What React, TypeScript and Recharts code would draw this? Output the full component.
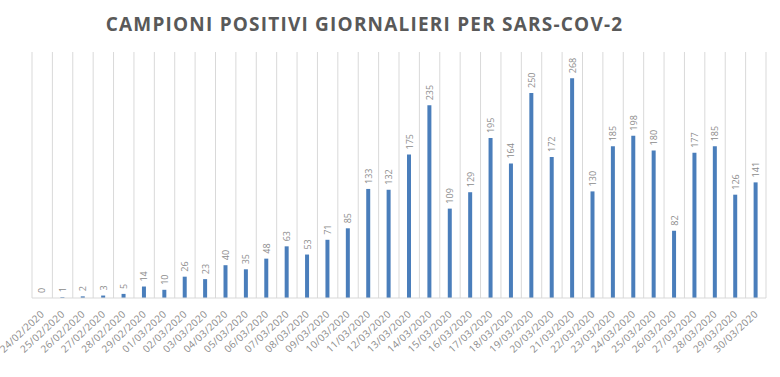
import React from 'react';
import { BarChart, Bar, XAxis, YAxis, CartesianGrid, LabelList } from 'recharts';

const dates = [
  '24/02/2020', '25/02/2020', '26/02/2020', '27/02/2020', '28/02/2020', '29/02/2020',
  '01/03/2020', '02/03/2020', '03/03/2020', '04/03/2020', '05/03/2020', '06/03/2020',
  '07/03/2020', '08/03/2020', '09/03/2020', '10/03/2020', '11/03/2020', '12/03/2020',
  '13/03/2020', '14/03/2020', '15/03/2020', '16/03/2020', '17/03/2020', '18/03/2020',
  '19/03/2020', '20/03/2020', '21/03/2020', '22/03/2020', '23/03/2020', '24/03/2020',
  '25/03/2020', '26/03/2020', '27/03/2020', '28/03/2020', '29/03/2020', '30/03/2020',
];

const positives = [
  0, 1, 2, 3, 5, 14, 10, 26, 23, 40, 35, 48, 63, 53, 71, 85, 133, 132,
  175, 235, 109, 129, 195, 164, 250, 172, 268, 130, 185, 198, 180, 82, 177, 185, 126, 141,
];

const title = 'CAMPIONI POSITIVI GIORNALIERI PER SARS-COV-2';

const data = dates.map((d, i) => ({ date: d, value: positives[i] }));

const DateTick = (props: any) => {
  const { x, y, payload } = props;
  return (
    <g transform={`translate(${x},${y + 6})`}>
      <text
        x={0}
        y={0}
        transform="rotate(-43)"
        textAnchor="end"
        dominantBaseline="central"
        fill="#8c8c8c"
        fontSize={10}
        letterSpacing={0.3}
        fontFamily="'Open Sans', sans-serif"
      >
        {payload.value}
      </text>
    </g>
  );
};

const ValueLabel = (props: any) => {
  const { x, y, width, value } = props;
  const cx = x + width / 2;
  const cy = y - 5;
  return (
    <text
      x={cx}
      y={cy}
      transform={`rotate(-90, ${cx}, ${cy})`}
      textAnchor="start"
      dominantBaseline="central"
      fill="#8c8c8c"
      fontSize={9}
      fontFamily="'Open Sans', sans-serif"
    >
      {value}
    </text>
  );
};

export default function App() {
  return (
    <div style={{ position: 'absolute', left: 0, top: 0, width: 780, height: 377, background: '#fff' }}>
      <div
        style={{
          position: 'absolute',
          left: 0,
          top: 11,
          width: 729,
          textAlign: 'center',
          fontFamily: "'Open Sans', sans-serif",
          fontWeight: 700,
          fontSize: 19,
          color: '#595959',
          letterSpacing: 1.2,
        }}
      >
        {title}
      </div>
      <BarChart
        width={780}
        height={377}
        data={data}
        margin={{ top: 52, right: 14, left: 32, bottom: 0 }}
        barCategoryGap={0}
      >
        <CartesianGrid
          horizontal={false}
          stroke="#d9d9d9"
          verticalCoordinatesGenerator={({ offset }: any) =>
            Array.from({ length: dates.length + 1 }, (_, i) => offset.left + (i * offset.width) / dates.length)
          }
        />
        <XAxis
          dataKey="date"
          interval={0}
          height={79}
          tickLine={false}
          axisLine={{ stroke: '#d9d9d9' }}
          tick={<DateTick />}
        />
        <YAxis hide domain={[0, 300]} />
        <Bar dataKey="value" fill="#4A7EBB" barSize={4} minPointSize={0.01} isAnimationActive={false}>
          <LabelList dataKey="value" content={<ValueLabel />} />
        </Bar>
      </BarChart>
    </div>
  );
}
